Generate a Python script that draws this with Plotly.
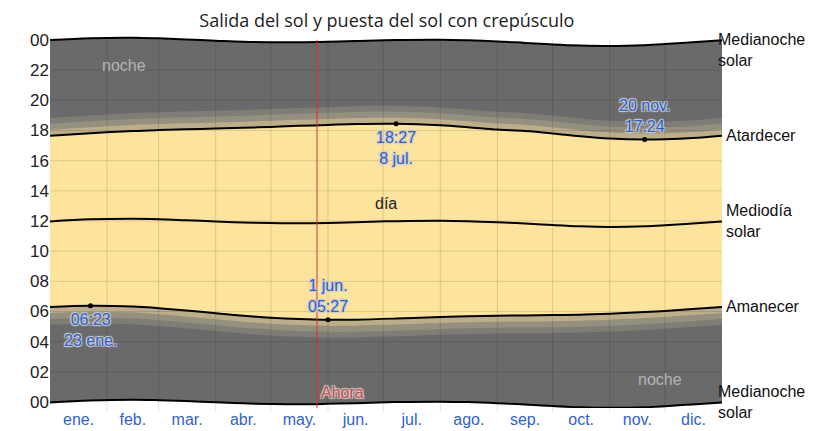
import plotly.graph_objects as go

days = [0, 22, 45, 59, 74, 90, 105, 120, 135, 151, 166, 188, 212, 227, 243, 258, 273, 288, 304, 323, 334, 349, 365]

# hours
sunrise = [6.30, 6.38, 6.33, 6.22, 6.07, 5.88, 5.72, 5.59, 5.50, 5.45, 5.46, 5.53, 5.63, 5.68, 5.72, 5.74, 5.76, 5.79, 5.85, 5.96, 6.04, 6.16, 6.30]
sunset = [17.65, 17.82, 17.97, 18.03, 18.08, 18.13, 18.18, 18.24, 18.31, 18.37, 18.43, 18.45, 18.35, 18.22, 18.06, 17.97, 17.81, 17.62, 17.47, 17.40, 17.42, 17.50, 17.65]
noon = [11.97, 12.11, 12.15, 12.12, 12.05, 11.97, 11.90, 11.86, 11.85, 11.87, 11.92, 11.99, 12.02, 11.99, 11.92, 11.83, 11.73, 11.65, 11.61, 11.65, 11.72, 11.84, 11.97]
midnight_top = [24.00, 24.12, 24.15, 24.11, 24.04, 23.96, 23.89, 23.86, 23.85, 23.88, 23.93, 24.00, 24.02, 23.98, 23.91, 23.81, 23.71, 23.64, 23.61, 23.66, 23.73, 23.85, 23.98]
midnight_bot = [-0.03, 0.10, 0.15, 0.12, 0.06, -0.02, -0.09, -0.13, -0.15, -0.12, -0.08, -0.01, 0.02, -0.01, -0.08, -0.17, -0.27, -0.35, -0.39, -0.35, -0.28, -0.16, -0.03]

# twilight lengths (hours) for civil, nautical, astronomical
civil = 0.40
nautical = 0.80
astro = 1.18

month_starts = [31, 59, 90, 120, 151, 181, 212, 243, 273, 304, 334]
month_mid = [15.5, 45, 74.5, 105, 135.5, 166, 196.5, 227.5, 258, 288.5, 319, 349.5]
month_names = ["ene.", "feb.", "mar.", "abr.", "may.", "jun.", "jul.", "ago.", "sep.", "oct.", "nov.", "dic."]
hour_ticks = list(range(0, 25, 2))
hour_text = ["%02d" % (h % 24) for h in hour_ticks]

now_day = 145

# highlighted points: (day, hour, text, above?)
highlights = [
    (22, 6.38, "06:23<br>23 ene.", False),
    (151, 5.45, "1 jun.<br>05:27", True),
    (188, 18.45, "18:27<br>8 jul.", False),
    (323, 17.40, "20 nov.<br>17:24", True),
]

FONT = "Liberation Sans, Arial, sans-serif"
BLUE = "#2f5fcf"
night_col = "#6a6a6a"
astro_col = "#807d77"
naut_col = "#958f7f"
civil_col = "#bcae88"
day_col = "#fce49c"

fig = go.Figure()


def band(lo, hi, color):
    fig.add_trace(go.Scatter(x=days, y=lo, mode="lines", line=dict(width=0, shape="spline"),
                             hoverinfo="skip", showlegend=False))
    fig.add_trace(go.Scatter(x=days, y=hi, mode="lines", line=dict(width=0, shape="spline"),
                             fill="tonexty", fillcolor=color, hoverinfo="skip", showlegend=False))


band(midnight_bot, midnight_top, night_col)
band([s - astro for s in sunrise], [s + astro for s in sunset], astro_col)
band([s - nautical for s in sunrise], [s + nautical for s in sunset], naut_col)
band([s - civil for s in sunrise], [s + civil for s in sunset], civil_col)
band(sunrise, sunset, day_col)

for ys in [midnight_top, midnight_bot, sunrise, sunset, noon]:
    fig.add_trace(go.Scatter(x=days, y=ys, mode="lines", line=dict(color="black", width=2, shape="spline"),
                             hoverinfo="skip", showlegend=False))

fig.add_trace(go.Scatter(x=[h[0] for h in highlights], y=[h[1] for h in highlights], mode="markers",
                         marker=dict(color="black", size=5), hoverinfo="skip", showlegend=False))

# grid lines drawn above the filled bands
for d in month_starts:
    fig.add_shape(type="line", xref="x", yref="paper", x0=d, x1=d, y0=-0.01, y1=0.984,
                  line=dict(color="rgba(0,0,0,0.12)", width=1), layer="above")
for h in hour_ticks[1:-1]:
    fig.add_shape(type="line", xref="paper", yref="y", x0=0, x1=1, y0=h, y1=h,
                  line=dict(color="rgba(0,0,0,0.12)", width=1), layer="above")
fig.add_shape(type="line", xref="x", yref="paper", x0=now_day, x1=now_day, y0=0, y1=0.984,
              line=dict(color="#e03030", width=1), layer="above")

halo = "1px 1px 1px #ccc, -1px -1px 1px #ccc, 1px -1px 1px #ccc, -1px 1px 1px #ccc"
for d, h, txt, above in highlights:
    fig.add_annotation(x=d, y=h, text=txt, showarrow=False, xanchor="center",
                       yanchor="bottom" if above else "top", yshift=3 if above else -3,
                       font=dict(family=FONT, size=16, color=BLUE, shadow=halo))

fig.add_annotation(x=40, y=22.28, text="noche", showarrow=False, font=dict(family=FONT, size=16, color="#b4b4b4"))
fig.add_annotation(x=331.5, y=1.46, text="noche", showarrow=False, font=dict(family=FONT, size=16, color="#b4b4b4"))
fig.add_annotation(x=182.6, y=13.13, text="día", showarrow=False, font=dict(family=FONT, size=16, color="#222"))
fig.add_annotation(x=now_day + 1, y=0.66, text="Ahora", showarrow=False, xanchor="left",
                   font=dict(family=FONT, size=16, color="#d04848", shadow=halo))

# labels on the right side
right = [
    (midnight_top[-1], "Medianoche<br>solar", 0.991, -10),
    (sunset[-1], "Atardecer", 1.003, 0),
    (noon[-1], "Mediodía<br>solar", 1.003, 0),
    (sunrise[-1], "Amanecer", 1.003, 0),
    (midnight_bot[-1], "Medianoche<br>solar", 0.991, 0),
]
for y, txt, xp, ys in right:
    fig.add_annotation(xref="paper", x=xp, y=y, text=txt, showarrow=False, xanchor="left", align="left",
                       yanchor="middle", yshift=ys, font=dict(family=FONT, size=16, color="#111"))

# the page adds 8px of body margin, so the figure is drawn 8px smaller
fig.update_layout(
    width=806, height=423,
    margin=dict(l=42, r=92, t=26, b=23),
    paper_bgcolor="white", plot_bgcolor="white",
    title=dict(text="Salida del sol y puesta del sol con crepúsculo", x=0.47, xanchor="center",
               y=0.97, yanchor="middle", font=dict(family="Open Sans, sans-serif", size=18, color="#222")),
    font=dict(family=FONT),
)
fig.update_xaxes(range=[0, 365], tickvals=month_mid, ticktext=month_names, showgrid=False, zeroline=False,
                 tickfont=dict(family=FONT, size=16, color=BLUE), ticks="", automargin=False)
fig.update_yaxes(range=[-0.4, 24.4], tickvals=hour_ticks, ticktext=hour_text, showgrid=False, zeroline=False,
                 tickfont=dict(family=FONT, size=17, color="#222"), ticks="", automargin=False)

fig.write_html("out.html")
